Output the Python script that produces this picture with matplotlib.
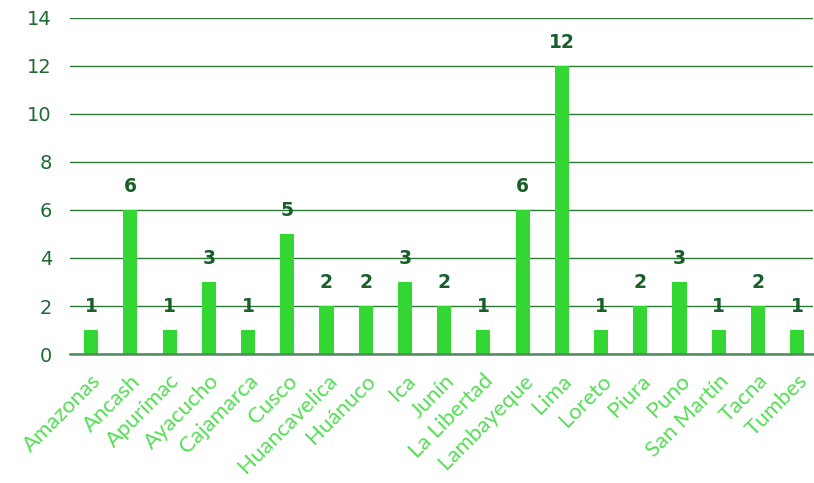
import matplotlib.pyplot as plt
import numpy as np

# data
regions = ["Amazonas", "Ancash", "Apurímac", "Ayacucho", "Cajamarca", "Cusco",
           "Huancavelica", "Huánuco", "Ica", "Junín", "La Libertad", "Lambayeque",
           "Lima", "Loreto", "Piura", "Puno", "San Martín", "Tacna", "Tumbes"]
counts = [1, 6, 1, 3, 1, 5, 2, 2, 3, 2, 1, 6, 12, 1, 2, 3, 1, 2, 1]
y_ticks = [0, 2, 4, 6, 8, 10, 12, 14]

bar_color = "#33d633"
label_color = "#1a5e2a"
tick_color = "#1e6b30"
grid_color = "#2f7839"

fig = plt.figure(figsize=(8.14, 4.83), dpi=100)
ax = fig.add_axes([0.086, 0.267, 0.913, 0.696])

x = np.arange(len(regions))
ax.bar(x, counts, width=0.36, color=bar_color, zorder=3)

for xi, v in zip(x, counts):
    ax.annotate(str(v), (xi, v), xytext=(0, 10), textcoords="offset points",
                ha="center", va="bottom", fontsize=13.5, fontweight="bold",
                color=label_color)

ax.set_ylim(0, 14)
ax.set_xlim(-0.54, len(regions) - 0.59)
ax.set_yticks(y_ticks)
ax.yaxis.grid(True, color=grid_color, linewidth=1)
ax.set_axisbelow(True)

for s in ["top", "right", "left"]:
    ax.spines[s].set_visible(False)
ax.spines["bottom"].set_color("#4e8a5c")
ax.spines["bottom"].set_linewidth(1.8)
ax.spines["bottom"].set_zorder(4)

ax.tick_params(axis="y", length=0, pad=13, labelsize=14, labelcolor=tick_color)
ax.tick_params(axis="x", length=0, pad=12)
ax.set_xticks(x)
ax.set_xticklabels(regions, rotation=45, ha="right", rotation_mode="anchor",
                   fontsize=16, color="#55dd55", family="Lato", fontweight="normal")

fig.savefig("out.png", dpi=100)
